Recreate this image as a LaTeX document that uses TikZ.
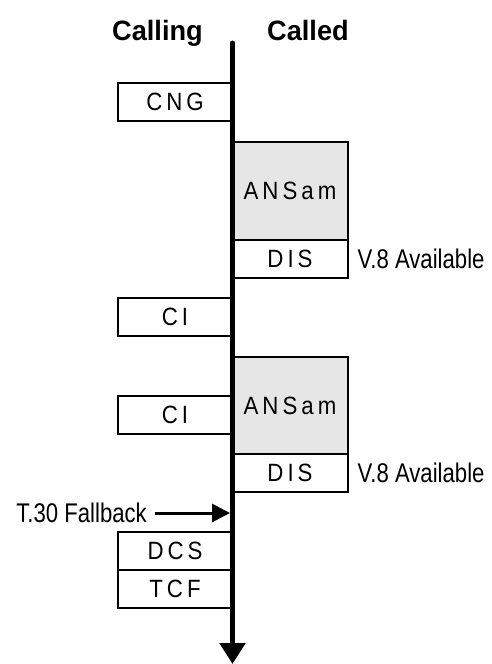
\documentclass[tikz,border=0pt]{standalone}
\usepackage{fontspec}
\setmainfont{Liberation Sans}
\newfontfamily\msgfont[LetterSpace=16,FakeStretch=0.89]{Liberation Sans}
\newfontfamily\notefont[FakeStretch=0.82]{Liberation Sans}
\newfontfamily\headfont[FakeStretch=0.97]{Liberation Sans}
\usetikzlibrary{positioning,arrows.meta}
\definecolor{sqgray}{HTML}{E6E6E6}
\tikzset{
  msg/.style     ={draw, line width=2pt, minimum width=115pt, minimum height=38pt,
                   inner sep=0pt, outer sep=0pt, font=\msgfont\fontsize{25}{30}\selectfont},
  callmsg/.style ={msg, anchor=north east},
  ansmsg/.style  ={msg, fill=sqgray, minimum height=98pt, anchor=north west},
  note/.style    ={inner sep=0pt, font=\notefont\fontsize{27}{32}\selectfont},
  head/.style    ={inner sep=0pt, anchor=base west, font=\headfont\bfseries\fontsize{28}{32}\selectfont},
  timeline/.style={line width=5pt, line cap=round, -{Triangle[length=21pt,width=25pt]}},
  fbarrow/.style ={line width=3pt, -{Triangle[length=18pt,width=18pt]}, shorten <=8pt},
}

\begin{document}
\begin{tikzpicture}[x=1pt, y=-1pt]
    \useasboundingbox (0,0) rectangle (492,664);
    % headings
    \node[head] (calling) at (112,40) {Calling};
    \node[head] (called)  at (267,40) {Called};
    % calling side
    \node[callmsg] (cng) at (232.5,83)  {CNG};
    \node[callmsg] (ciA) at (232.5,298) {CI};
    \node[callmsg] (ciB) at (232.5,396) {CI};
    \node[callmsg] (dcs) at (232.5,532) {DCS};
    \node[msg, below=0pt of dcs] (tcf) {TCF};
    % called side
    \node[ansmsg] (ansA) at (232.5,142) {ANSam};
    \node[msg, below=0pt of ansA] (disA) {DIS};
    \node[ansmsg, minimum height=97pt] (ansB) at (232.5,357) {ANSam};
    \node[msg, below=0pt of ansB] (disB) {DIS};
    \node[note, right=10pt of disA] (avA) {V.8 Available};
    \node[note, right=10pt of disB] (avB) {V.8 Available};
    % fallback
    \node[note, anchor=east] (fb) at (147,513) {T.30 Fallback};
    \coordinate (fbend) at (230,513);
    \draw[fbarrow] (fb.east) -- (fbend);
    % time axis
    \coordinate (lntop) at (232.5,43);
    \coordinate (lnend) at (232.5,664);
    \draw[timeline] (lntop) -- (lnend);
\end{tikzpicture}
\end{document}
